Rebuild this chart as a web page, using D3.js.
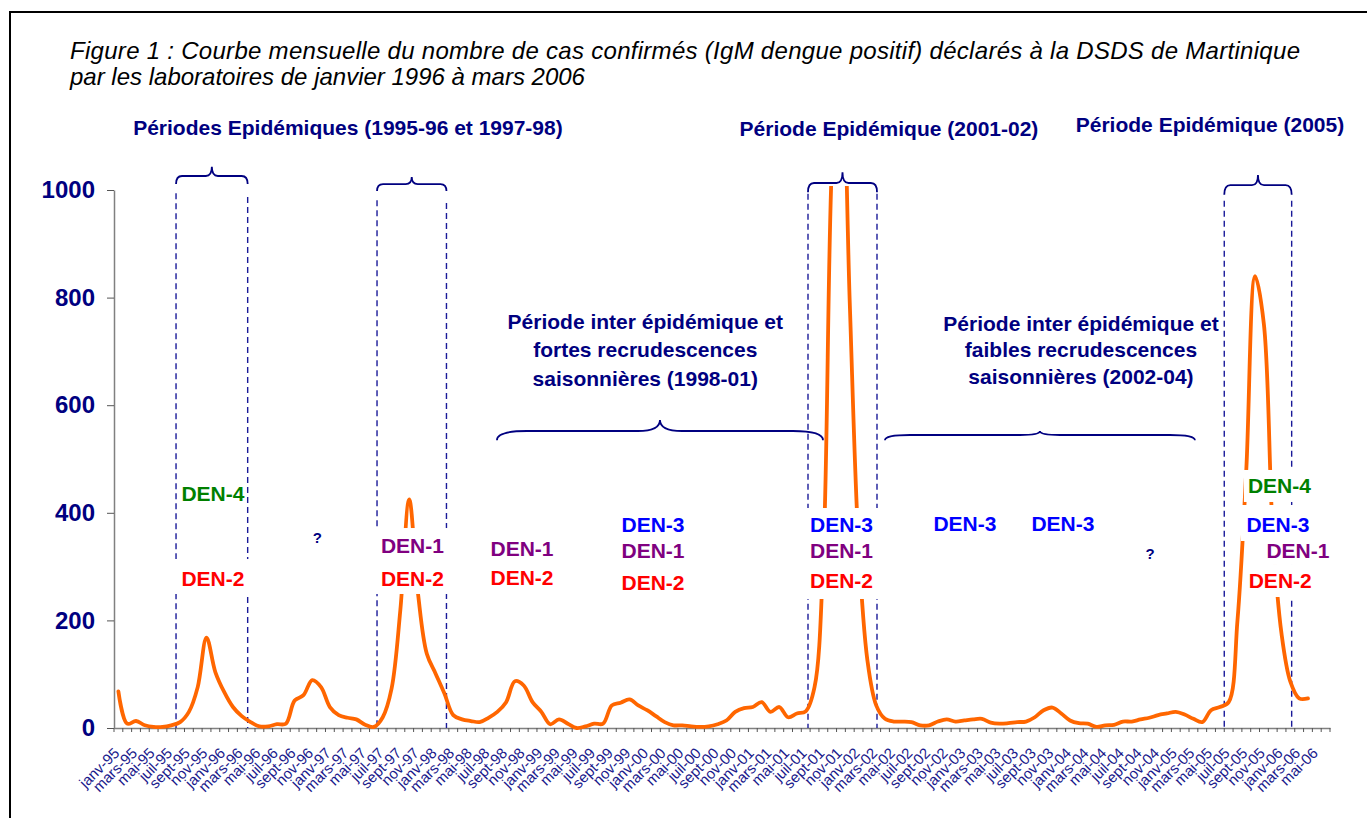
<!DOCTYPE html>
<html><head><meta charset="utf-8">
<script src="https://cdn.jsdelivr.net/npm/d3@7"></script>
<style>
html,body{margin:0;padding:0;background:#fff;overflow:hidden}
text{font-family:Arial,"Liberation Sans",sans-serif}
</style></head><body>
<svg id="chart" width="1367" height="818"></svg>
<script>
// ---------- DATA ----------
const monthNames = ["janv","févr","mars","avr","mai","juin","juil","août","sept","oct","nov","déc"];
const yearSuffixes = ["95","96","97","98","99","00","01","02","03","04","05","06"];
const categories = [];
yearSuffixes.forEach(y => monthNames.forEach(m => categories.push(m + "-" + y)));
categories.length = 138; // janv-95 .. juin-06

// monthly confirmed cases, janv-95 .. avr-06
const cases = [
  68, 8, 13, 5, 2, 2, 5, 11, 30, 76, 168, 104,
  67, 39, 22, 11, 3, 3, 7, 8, 51, 61, 89, 76,
  39, 24, 19, 16, 6, 2, 20, 73, 220, 425, 250, 138,
  101, 64, 24, 16, 13, 11, 19, 30, 48, 87, 79, 48,
  30, 7, 16, 8, 0, 3, 8, 8, 42, 47, 53, 42,
  33, 22, 11, 5, 5, 3, 2, 3, 7, 14, 30, 37,
  39, 48, 30, 39, 20, 27, 31, 76, 320, 1060, 1300, 790,
  340, 126, 42, 17, 12, 12, 11, 5, 5, 12, 16, 12,
  14, 16, 17, 10, 8, 9, 11, 12, 20, 33, 38, 27,
  14, 9, 8, 2, 5, 6, 12, 12, 16, 19, 24, 27,
  30, 25, 17, 11, 33, 39, 48, 200, 480, 840, 750, 366,
  175, 86, 55, 55
];
const yTicks = [0, 200, 400, 600, 800, 1000];

const titleLines = [
  "Figure 1 : Courbe mensuelle du nombre de cas confirmés (IgM dengue positif) déclarés à la DSDS de Martinique",
  "par les laboratoires de janvier 1996 à mars 2006"
];

// annotations in data units (month index, case value)
const epidemicPeriods = [
  {m1: 6.54,  m2: 14.67,  vEnd: 1011, vFlat: 1026, vTip: 1043, topL: 994, topR: 987},
  {m1: 29.35, m2: 37.23,  vEnd: 998,  vFlat: 1011, vTip: 1024, topL: 981, topR: 976},
  {m1: 78.26, m2: 86.09,  vEnd: 996,  vFlat: 1013, vTip: 1033, topL: 993, topR: 993},
  {m1: 125.5, m2: 133.15, vEnd: 991,  vFlat: 1009, vTip: 1028, topL: 980, topR: 980}
];
const interBraces = [
  {m1: 42.96, m2: 79.96,  vEnd: 535, vFlat: 552,   vTip: 572.5, rEnd: 30, rTip: 22},
  {m1: 86.99, m2: 122.17, vEnd: 535, vFlat: 544.6, vTip: 552,   rEnd: 25, rTip: 20}
];
const headerLabels = [
  {m: 26.05,  v: 1103, t: "Périodes Epidémiques (1995-96 et 1997-98)"},
  {m: 87.45,  v: 1101, t: "Période Epidémique (2001-02)"},
  {m: 123.88, v: 1107, t: "Période Epidémique (2005)"}
];
const interLabels = [
  {m: 59.79,  vs: [741.6, 688.7, 635.7], lines: ["Période inter épidémique et", "fortes recrudescences", "saisonnières (1998-01)"]},
  {m: 109.24, vs: [737.9, 689.6, 639.4], lines: ["Période inter épidémique et", "faibles recrudescences", "saisonnières (2002-04)"]}
];
const maskBoxes = [
  {m1: 6.20,   m2: 15.05,  v1: 314.1, v2: 249.1},
  {m1: 28.78,  m2: 37.86,  v1: 371.7, v2: 249.1},
  {m1: 77.69,  m2: 86.54,  v1: 408.9, v2: 239.8},
  {m1: 127.73, m2: 135.68, v1: 479.6, v2: 420.1},
  {m1: 127.39, m2: 135.45, v1: 414.5, v2: 347.6},
  {m1: 129.78, m2: 137.72, v1: 347.6, v2: 303.0},
  {m1: 127.85, m2: 135.91, v1: 303.0, v2: 243.5}
];
const serotypeColors = {"DEN-1": "#800080", "DEN-2": "#ff0000", "DEN-3": "#0000ff", "DEN-4": "#008000", "?": "#000080"};
const serotypeLabels = [
  {m: 10.73,  v: 422.5, t: "DEN-4"},
  {m: 10.73,  v: 264.5, t: "DEN-2"},
  {m: 22.59,  v: 343.9, t: "?"},
  {m: 33.37,  v: 324.7, t: "DEN-1"},
  {m: 33.37,  v: 264.5, t: "DEN-2"},
  {m: 45.80,  v: 320.6, t: "DEN-1"},
  {m: 45.80,  v: 264.9, t: "DEN-2"},
  {m: 60.67,  v: 365.2, t: "DEN-3"},
  {m: 60.67,  v: 316.9, t: "DEN-1"},
  {m: 60.67,  v: 257.4, t: "DEN-2"},
  {m: 82.06,  v: 364.9, t: "DEN-3"},
  {m: 82.06,  v: 315.4, t: "DEN-1"},
  {m: 82.06,  v: 259.7, t: "DEN-2"},
  {m: 96.07,  v: 367.1, t: "DEN-3"},
  {m: 107.19, v: 367.1, t: "DEN-3"},
  {m: 117.07, v: 314.1, t: "?"},
  {m: 131.76, v: 436.3, t: "DEN-4"},
  {m: 131.59, v: 364.9, t: "DEN-3"},
  {m: 133.86, v: 315.4, t: "DEN-1"},
  {m: 131.85, v: 259.7, t: "DEN-2"}
];

// ---------- CHART ----------
const NAVY = "#000080";
const FONT = "Arial, 'Liberation Sans', sans-serif";
const svg = d3.select("#chart");

// frame
svg.append("rect").attr("x", 10).attr("y", 12).attr("width", 1400).attr("height", 900)
  .attr("fill", "#fff").attr("stroke", "#000").attr("stroke-width", 2);

// title
svg.append("text").attr("x", 70).attr("y", 59).attr("font-size", 24).attr("font-style", "italic")
  .attr("textLength", 1230).attr("lengthAdjust", "spacing").text(titleLines[0]);
svg.append("text").attr("x", 70).attr("y", 85).attr("font-size", 24).attr("font-style", "italic")
  .text(titleLines[1]);

const x = d3.scaleBand().domain(categories).range([114, 1330]).padding(0);
const xm = d3.scaleLinear().domain([-0.5, categories.length - 0.5]).range([114, 1330]);
const y = d3.scaleLinear().domain([0, 1000]).range([728, 190]);

// y axis
const gy = svg.append("g").attr("transform", `translate(${x.range()[0]},0)`)
  .call(d3.axisLeft(y).tickValues(yTicks).tickFormat(d3.format("d"))
    .tickSize(7).tickSizeOuter(0).tickPadding(12));
gy.select(".domain").attr("stroke", "#808080").attr("stroke-width", 1.5);
gy.selectAll(".tick line").attr("stroke", "#555");
gy.selectAll(".tick text").attr("fill", NAVY).attr("font-size", 24).attr("font-weight", "bold")
  .attr("font-family", FONT);

// x axis
const gx = svg.append("g").attr("transform", `translate(0,${y(0)})`)
  .call(d3.axisBottom(x).tickValues(categories.filter((d, i) => i % 2 === 0)).tickSize(0).tickSizeOuter(0));
gx.select(".domain").attr("stroke", "#808080").attr("stroke-width", 1.5);
gx.selectAll(".tick text").attr("x", 0).attr("y", 0).attr("dy", 0)
  .attr("transform", "translate(2,26) rotate(-45)").attr("text-anchor", "end")
  .attr("fill", "#1a1a8c").attr("font-size", 15).attr("font-family", FONT);
gx.selectAll(".bt").data(d3.range(categories.length + 1)).join("line")
  .attr("x1", i => xm(i - 0.5)).attr("x2", i => xm(i - 0.5))
  .attr("y1", 0).attr("y2", 4).attr("stroke", "#555").attr("stroke-width", 1);

// dashed epidemic period lines
const dash = svg.append("g").attr("stroke", "#1a1a99").attr("stroke-width", 1.4).attr("stroke-dasharray", "6,4");
epidemicPeriods.forEach(p => {
  dash.append("line").attr("x1", xm(p.m1)).attr("x2", xm(p.m1)).attr("y1", y(p.topL)).attr("y2", y(0));
  dash.append("line").attr("x1", xm(p.m2)).attr("x2", xm(p.m2)).attr("y1", y(p.topR)).attr("y2", y(0));
});

// braces
function bracePath(x1, x2, yEnd, yFlat, yTip, rEnd, rTip) {
  const mid = (x1 + x2) / 2;
  return `M${x1},${yEnd} Q${x1},${yFlat} ${x1 + rEnd},${yFlat} L${mid - rTip},${yFlat} ` +
    `Q${mid},${yFlat} ${mid},${yTip} Q${mid},${yFlat} ${mid + rTip},${yFlat} ` +
    `L${x2 - rEnd},${yFlat} Q${x2},${yFlat} ${x2},${yEnd}`;
}
const braces = svg.append("g").attr("fill", "none").attr("stroke", NAVY).attr("stroke-width", 1.8);
epidemicPeriods.forEach(p => braces.append("path")
  .attr("d", bracePath(xm(p.m1), xm(p.m2), y(p.vEnd), y(p.vFlat), y(p.vTip), 6, 6)));
interBraces.forEach(p => braces.append("path")
  .attr("d", bracePath(xm(p.m1), xm(p.m2), y(p.vEnd), y(p.vFlat), y(p.vTip), p.rEnd, p.rTip)));

// data line
svg.append("clipPath").attr("id", "plotclip").append("rect")
  .attr("x", 100).attr("y", y(1000) - 4).attr("width", 1260).attr("height", y(0) - y(1000) + 20);
const line = d3.line()
  .x((d, i) => x(categories[i]) + x.bandwidth() / 2)
  .y(d => y(d))
  .curve(d3.curveCatmullRom.alpha(0.5));
svg.append("path").datum(cases).attr("clip-path", "url(#plotclip)")
  .attr("fill", "none").attr("stroke", "#ff6600").attr("stroke-width", 3.8)
  .attr("stroke-linejoin", "round").attr("stroke-linecap", "round").attr("d", line);

// white masks behind serotype labels
svg.append("g").selectAll("rect").data(maskBoxes).join("rect")
  .attr("x", d => xm(d.m1)).attr("width", d => xm(d.m2) - xm(d.m1))
  .attr("y", d => y(d.v1)).attr("height", d => y(d.v2) - y(d.v1)).attr("fill", "#fff");

// serotype labels
svg.append("g").selectAll("text").data(serotypeLabels).join("text")
  .attr("x", d => xm(d.m)).attr("y", d => y(d.v)).attr("text-anchor", "middle")
  .attr("font-weight", "bold").attr("font-size", d => d.t === "?" ? 15 : 21)
  .attr("fill", d => serotypeColors[d.t]).text(d => d.t);

// header labels
svg.append("g").selectAll("text").data(headerLabels).join("text")
  .attr("x", d => xm(d.m)).attr("y", d => y(d.v)).attr("text-anchor", "middle")
  .attr("font-weight", "bold").attr("font-size", 21).attr("fill", NAVY).text(d => d.t);

// inter-epidemic labels
interLabels.forEach(b => {
  svg.append("g").selectAll("text").data(b.lines).join("text")
    .attr("x", xm(b.m)).attr("y", (d, i) => y(b.vs[i])).attr("text-anchor", "middle")
    .attr("font-weight", "bold").attr("font-size", 21).attr("fill", NAVY).text(d => d);
});
</script>
</body></html>
